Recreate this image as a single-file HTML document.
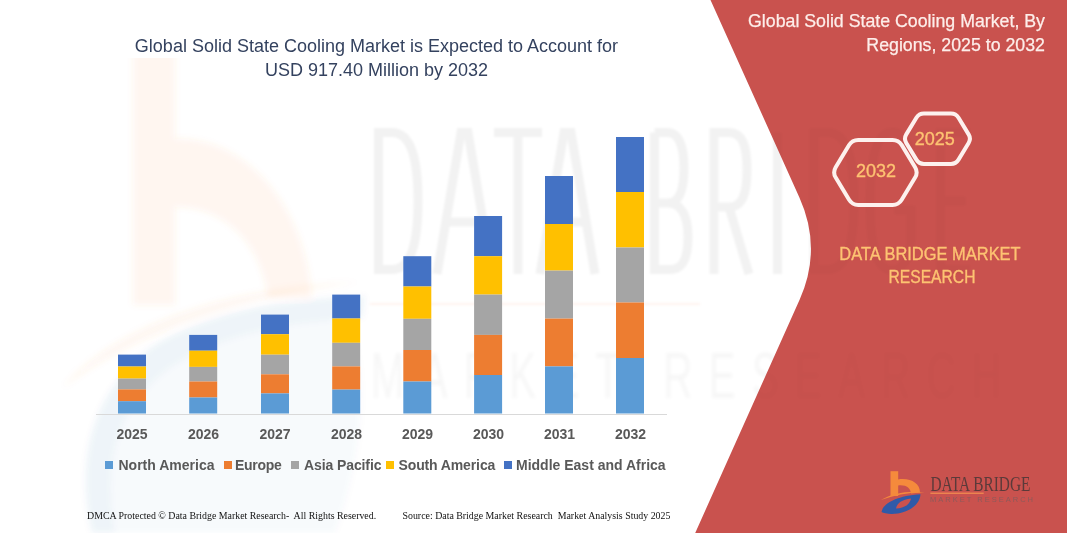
<!DOCTYPE html>
<html><head><meta charset="utf-8">
<style>
*{margin:0;padding:0;box-sizing:border-box}
html,body{width:1067px;height:533px;overflow:hidden;background:#fff}
body{position:relative;font-family:"Liberation Sans",sans-serif}
.a{position:absolute;white-space:nowrap}
svg.a{left:0;top:0}
.t1{color:#34425f;font-size:18px;left:0;width:753px;text-align:center;line-height:24px}
.rt{color:#fdeeea;-webkit-text-stroke:0.25px #fdeeea;font-size:17.75px;right:22px;text-align:right;line-height:24px}
.yr{font-weight:bold;color:#595959;font-size:14px;width:60px;text-align:center;line-height:16px}
.lg{font-weight:bold;color:#595959;font-size:14px;line-height:16px}
.sq{position:absolute;width:8.4px;height:8.4px}
.ft{font-family:"Liberation Serif",serif;font-size:9.9px;color:#111;line-height:12px}
.or{color:#fdc372;-webkit-text-stroke:0.35px #fdc372}
</style></head>
<body>
<svg class="a" width="1067" height="533" viewBox="0 0 1067 533">
  <defs>
    <clipPath id="wmclip"><rect x="0" y="58" width="1067" height="475"/></clipPath>
    <clipPath id="redclip"><path d="M710.5 0 L1067 0 L1067 533 L695.2 533 L799.7 299.5 Q822.4 248.5 799.4 197.5 Z"/></clipPath>
    <filter id="bl" x="-5%" y="-5%" width="110%" height="110%"><feGaussianBlur stdDeviation="1.2"/></filter>
    <filter id="bl2" x="-5%" y="-20%" width="110%" height="140%"><feGaussianBlur stdDeviation="1.5"/></filter>
    <filter id="bl3" x="-10%" y="-10%" width="120%" height="120%"><feGaussianBlur stdDeviation="3"/></filter>
  </defs>
  <!-- watermark big logo -->
  <g clip-path="url(#wmclip)"><g filter="url(#bl3)">
    <g fill="#f58a3c" opacity="0.08">
      <path d="M133 40 H175 V305 H133 Z"/>
      <path d="M173 139 C240 135 305 200 312 298 L268 298 C262 245 225 205 173 207 Z"/>
    </g>
    <path d="M62 388 C120 320 240 285 360 282 C250 295 140 330 62 388 Z" fill="#f58a3c" opacity="0.07"/>
    <path fill="#2f5aa8" opacity="0.03" d="M112 533 C104 470 112 410 170 368 C220 335 290 320 345 318 C370 360 365 450 335 533 Z"/>
    <path fill="#2f5aa8" opacity="0.065" d="M92 533 C78 470 84 400 150 348 C205 312 285 298 365 296 L362 318 C290 320 220 335 170 368 C112 410 104 470 114 533 Z"/>
  </g></g>
  <!-- watermark letters -->
  <g filter="url(#bl)">
      <g fill="none" stroke="#000" stroke-opacity="0.05" stroke-width="9">
        <path d="M378.5 132.5 V269.5 H392 C412 269.5 418 240 418 201 C418 162 412 132.5 392 132.5 Z"/>
        <path d="M437 274 L461 132.5 H468 L492 274 M446 222 H483"/>
        <path d="M494 132.5 H542 M518 132.5 V274"/>
        <path d="M540 274 L564 132.5 H571 L595 274 M549 222 H586"/>
        <path d="M654.5 132.5 V269.5 H670 C682 269.5 688 260 688 237 C688 214 680 203 668 203 H654.5 M668 203 C678 203 684 193 684 168 C684 145 678 132.5 668 132.5 H654.5"/>
        <path d="M714 274 V132.5 H729 C742 132.5 747 145 747 170 C747 195 742 207 729 207 H714 M729 207 L749 274"/>
        <path d="M777.5 132.5 V274"/>
        <path d="M814 132.5 V269.5 H828 C848 269.5 854 240 854 201 C854 162 848 132.5 828 132.5 Z"/>
        <path d="M910 150 C906 138 900 132 892 132 C876 132 870 160 870 201 C870 245 876 270 892 270 C902 270 910 260 911 240 V210 H894"/>
        <path d="M970 132.5 H940.5 V269.5 H970 M940.5 201 H966"/>
      </g>
      <g filter="url(#bl2)"><text x="371" y="248.5" transform="scale(1 1.6)" font-family="Liberation Sans" font-size="40" fill="#000" fill-opacity="0.035" textLength="630" lengthAdjust="spacing">MARKET RESEARCH</text></g>
      <line x1="370" y1="304" x2="700" y2="304" stroke="#f4a070" stroke-opacity="0.12" stroke-width="2"/>
  </g>
  <!-- red panel -->
  <path d="M710.5 0 L1067 0 L1067 533 L695.2 533 L799.7 299.5 Q822.4 248.5 799.4 197.5 Z" fill="#c9524e"/>
  <g clip-path="url(#redclip)" opacity="0.4"><g filter="url(#bl)">
      <g fill="none" stroke="#000" stroke-opacity="0.05" stroke-width="9">
        <path d="M378.5 132.5 V269.5 H392 C412 269.5 418 240 418 201 C418 162 412 132.5 392 132.5 Z"/>
        <path d="M437 274 L461 132.5 H468 L492 274 M446 222 H483"/>
        <path d="M494 132.5 H542 M518 132.5 V274"/>
        <path d="M540 274 L564 132.5 H571 L595 274 M549 222 H586"/>
        <path d="M654.5 132.5 V269.5 H670 C682 269.5 688 260 688 237 C688 214 680 203 668 203 H654.5 M668 203 C678 203 684 193 684 168 C684 145 678 132.5 668 132.5 H654.5"/>
        <path d="M714 274 V132.5 H729 C742 132.5 747 145 747 170 C747 195 742 207 729 207 H714 M729 207 L749 274"/>
        <path d="M777.5 132.5 V274"/>
        <path d="M814 132.5 V269.5 H828 C848 269.5 854 240 854 201 C854 162 848 132.5 828 132.5 Z"/>
        <path d="M910 150 C906 138 900 132 892 132 C876 132 870 160 870 201 C870 245 876 270 892 270 C902 270 910 260 911 240 V210 H894"/>
        <path d="M970 132.5 H940.5 V269.5 H970 M940.5 201 H966"/>
      </g>
      <g filter="url(#bl2)"><text x="371" y="248.5" transform="scale(1 1.6)" font-family="Liberation Sans" font-size="40" fill="#000" fill-opacity="0.035" textLength="630" lengthAdjust="spacing">MARKET RESEARCH</text></g>
      <line x1="370" y1="304" x2="700" y2="304" stroke="#f4a070" stroke-opacity="0.12" stroke-width="2"/>
  </g></g>
  <!-- axis -->
  <rect x="96" y="414" width="571" height="1" fill="#d9d9d9"/>
  <!-- bars -->
<rect x="118" y="354.6" width="28" height="11.9" fill="#4472c4"/>
<rect x="118" y="366.5" width="28" height="12.1" fill="#ffc000"/>
<rect x="118" y="378.6" width="28" height="10.8" fill="#a5a5a5"/>
<rect x="118" y="389.4" width="28" height="11.8" fill="#ed7d31"/>
<rect x="118" y="401.2" width="28" height="12.3" fill="#5b9bd5"/>
<rect x="189.2" y="334.9" width="28" height="15.8" fill="#4472c4"/>
<rect x="189.2" y="350.7" width="28" height="16.2" fill="#ffc000"/>
<rect x="189.2" y="366.9" width="28" height="14.6" fill="#a5a5a5"/>
<rect x="189.2" y="381.5" width="28" height="16.0" fill="#ed7d31"/>
<rect x="189.2" y="397.5" width="28" height="16.0" fill="#5b9bd5"/>
<rect x="261" y="314.6" width="28" height="19.6" fill="#4472c4"/>
<rect x="261" y="334.2" width="28" height="20.5" fill="#ffc000"/>
<rect x="261" y="354.7" width="28" height="19.6" fill="#a5a5a5"/>
<rect x="261" y="374.3" width="28" height="19.1" fill="#ed7d31"/>
<rect x="261" y="393.4" width="28" height="20.1" fill="#5b9bd5"/>
<rect x="332.2" y="294.6" width="28" height="23.9" fill="#4472c4"/>
<rect x="332.2" y="318.5" width="28" height="24.3" fill="#ffc000"/>
<rect x="332.2" y="342.8" width="28" height="23.6" fill="#a5a5a5"/>
<rect x="332.2" y="366.4" width="28" height="23.2" fill="#ed7d31"/>
<rect x="332.2" y="389.6" width="28" height="23.9" fill="#5b9bd5"/>
<rect x="403.3" y="256.2" width="28" height="30.3" fill="#4472c4"/>
<rect x="403.3" y="286.5" width="28" height="32.3" fill="#ffc000"/>
<rect x="403.3" y="318.8" width="28" height="31.2" fill="#a5a5a5"/>
<rect x="403.3" y="350" width="28" height="31.5" fill="#ed7d31"/>
<rect x="403.3" y="381.5" width="28" height="32.0" fill="#5b9bd5"/>
<rect x="474.1" y="216" width="28" height="40.2" fill="#4472c4"/>
<rect x="474.1" y="256.2" width="28" height="38.4" fill="#ffc000"/>
<rect x="474.1" y="294.6" width="28" height="40.3" fill="#a5a5a5"/>
<rect x="474.1" y="334.9" width="28" height="40.1" fill="#ed7d31"/>
<rect x="474.1" y="375" width="28" height="38.5" fill="#5b9bd5"/>
<rect x="545" y="176" width="28" height="48.0" fill="#4472c4"/>
<rect x="545" y="224" width="28" height="46.6" fill="#ffc000"/>
<rect x="545" y="270.6" width="28" height="48.0" fill="#a5a5a5"/>
<rect x="545" y="318.6" width="28" height="47.8" fill="#ed7d31"/>
<rect x="545" y="366.4" width="28" height="47.1" fill="#5b9bd5"/>
<rect x="616" y="137" width="28" height="55.0" fill="#4472c4"/>
<rect x="616" y="192" width="28" height="55.5" fill="#ffc000"/>
<rect x="616" y="247.5" width="28" height="55.0" fill="#a5a5a5"/>
<rect x="616" y="302.5" width="28" height="55.5" fill="#ed7d31"/>
<rect x="616" y="358" width="28" height="55.5" fill="#5b9bd5"/>
  <!-- hexagons -->
  <g fill="none" stroke="#fdf1ee" stroke-width="4" stroke-linejoin="round">
    <path d="M835.70 177.54 Q832.60 172.40 835.70 167.26 L849.10 145.04 Q852.20 139.90 858.20 139.90 L892.60 139.90 Q898.60 139.90 901.70 145.04 L915.10 167.26 Q918.20 172.40 915.10 177.54 L901.70 199.76 Q898.60 204.90 892.60 204.90 L858.20 204.90 Q852.20 204.90 849.10 199.76 Z"/>
    <path d="M906.28 142.93 Q903.70 138.65 906.28 134.37 L916.37 117.68 Q918.95 113.40 923.95 113.40 L950.95 113.40 Q955.95 113.40 958.53 117.68 L968.62 134.37 Q971.20 138.65 968.62 142.93 L958.53 159.62 Q955.95 163.90 950.95 163.90 L923.95 163.90 Q918.95 163.90 916.37 159.62 Z"/>
  </g>
  <!-- small logo -->
  <g transform="translate(880 470)">
      <path d="M10.5 1.2 H18.2 V26 H10.5 Z" fill="#f58a3c"/>
      <path d="M18 9.5 C 30 7.5 40 13 40 22.5 L 31 23.5 C 30.5 18 26 14.5 18 15.5 Z" fill="#f58a3c"/>
      <path d="M1 30 C 12 23 30 20 45 22.5 C 30 22 14 25 1 30 Z" fill="#f58a3c"/>
      <path fill-rule="evenodd" fill="#2f5aa8" d="M1.5 42 C 3 33 18 25.5 40.5 24.2 C 40 33 32 41 18 43.5 C 10 44.5 4 43.5 1.5 42 Z M 16 38.5 C 17 33 22 29.5 31 28.5 C 30 34 25 38 16 38.5 Z"/>
  </g>
  <text x="930.4" y="491" font-family="Liberation Serif" font-size="20.5" fill="#5b3a3a" textLength="100" lengthAdjust="spacingAndGlyphs">DATA BRIDGE</text>
  <rect x="930.4" y="492.6" width="53.3" height="1.3" fill="#f08a50"/>
  <text x="930" y="502.3" font-family="Liberation Sans" font-size="7.5" fill="#8c5a5a" textLength="103" lengthAdjust="spacing">MARKET RESEARCH</text>
</svg>

<!-- chart title -->
<div class="a t1" style="top:34px">Global Solid State Cooling Market is Expected to Account for<br>USD 917.40 Million by 2032</div>

<!-- year labels -->
<div class="a yr" style="left:102px;top:426px">2025</div>
<div class="a yr" style="left:173.5px;top:426px">2026</div>
<div class="a yr" style="left:245px;top:426px">2027</div>
<div class="a yr" style="left:316.5px;top:426px">2028</div>
<div class="a yr" style="left:387.5px;top:426px">2029</div>
<div class="a yr" style="left:458.5px;top:426px">2030</div>
<div class="a yr" style="left:529.5px;top:426px">2031</div>
<div class="a yr" style="left:600.5px;top:426px">2032</div>

<!-- legend -->
<div class="sq" style="left:105px;top:461px;background:#5b9bd5"></div>
<div class="a lg" style="left:118.5px;top:456.5px">North America</div>
<div class="sq" style="left:223.5px;top:461px;background:#ed7d31"></div>
<div class="a lg" style="left:235px;top:456.5px;letter-spacing:-0.3px">Europe</div>
<div class="sq" style="left:290.5px;top:461px;background:#a5a5a5"></div>
<div class="a lg" style="left:304px;top:456.5px;letter-spacing:-0.1px">Asia Pacific</div>
<div class="sq" style="left:385.5px;top:461px;background:#ffc000"></div>
<div class="a lg" style="left:398.5px;top:456.5px;letter-spacing:-0.12px">South America</div>
<div class="sq" style="left:503.5px;top:461px;background:#4472c4"></div>
<div class="a lg" style="left:516px;top:456.5px">Middle East and Africa</div>

<!-- footer -->
<div class="a ft" style="left:87px;top:510px">DMCA Protected © Data Bridge Market Research-&nbsp; All Rights Reserved.</div>
<div class="a ft" style="left:402.5px;top:510px">Source: Data Bridge Market Research&nbsp; Market Analysis Study 2025</div>

<!-- right title -->
<div class="a rt" style="top:9px">Global Solid State Cooling Market, By<br>Regions, 2025 to 2032</div>

<!-- hex text -->
<div class="a or" style="left:856px;top:161px;font-size:18px">2032</div>
<div class="a or" style="left:914.8px;top:129px;font-size:18px">2025</div>

<div class="a or" style="left:830px;top:242.5px;width:200px;text-align:center;font-size:17.7px;line-height:23.5px;transform:scaleX(0.93)">DATA BRIDGE MARKET</div>
<div class="a or" style="left:832px;top:266px;width:200px;text-align:center;font-size:17.7px;line-height:23.5px;transform:scaleX(0.885)">RESEARCH</div>
</body></html>
